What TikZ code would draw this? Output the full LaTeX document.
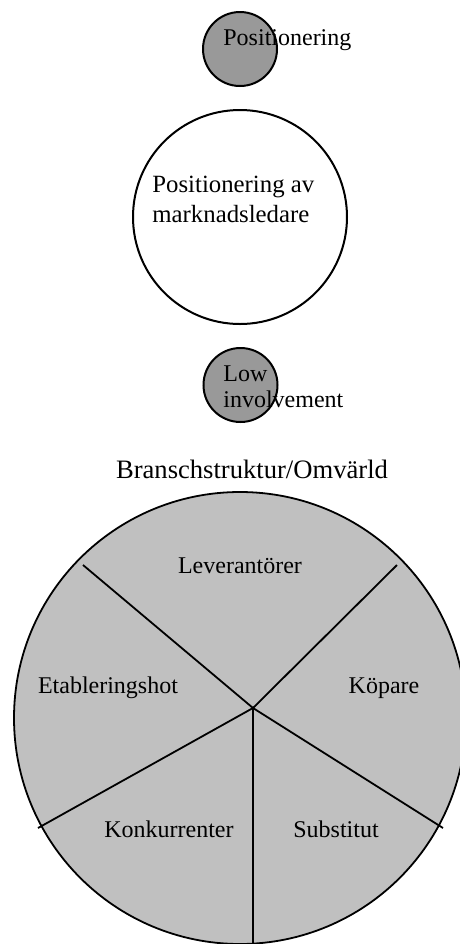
\documentclass[tikz,border=0pt]{standalone}
\usepackage{fontspec}
\setmainfont{Liberation Serif}
\definecolor{discgray}{HTML}{999999}
\definecolor{sectorgray}{HTML}{C0C0C0}
\begin{document}
\begin{tikzpicture}[x=0.5pt,y=-0.5pt,
  disc/.style={circle, draw=black, line width=1pt, inner sep=0pt},
  txt/.style={inner sep=0pt, font=\fontsize{12}{15}\selectfont},
  divider/.style={draw=black, line width=0.9pt}]
\useasboundingbox (0,0) rectangle (460,944);
\clip (0,0) rectangle (460,944);

% top: positioning
\node[disc, fill=discgray, minimum size=37pt] (posdisc) at (240,49) {};
\node[txt, anchor=base west] (postext) at (223,45) {Positionering};

% market leader positioning (base anchor sits on the last line)
\node[disc, fill=white, minimum size=107pt] (leader) at (240,217) {};
\node[txt, anchor=base west, align=left, font=\fontsize{12.4}{15}\selectfont]
  (leadertext) at (152,222) {Positionering av\\marknadsledare};

% low involvement
\node[disc, fill=discgray, minimum size=37pt] (lowdisc) at (240.5,385) {};
\node[txt, anchor=base west, align=left, font=\fontsize{12}{13}\selectfont]
  (lowtext) at (223,407) {Low\\involvement};

% industry structure wheel
\node[txt, anchor=base, font=\fontsize{13.3}{16}\selectfont] (title) at (252,478) {Branschstruktur/Omvärld};
\node[disc, fill=sectorgray, line width=0.9pt, minimum size=226pt] (wheel) at (240,718) {};
\coordinate (hub) at (253,708);
\coordinate (ul) at (83,565);
\coordinate (ur) at (397,565);
\coordinate (ll) at (38,828);
\coordinate (lr) at (443,828);
\coordinate (bt) at (253,946);
\draw[divider] (hub) -- (ul);
\draw[divider] (hub) -- (ur);
\draw[divider] (hub) -- (ll);
\draw[divider] (hub) -- (lr);
\draw[divider] (hub) -- (bt);

\node[txt, anchor=base] (lev) at (240,573) {Leverantörer};
\node[txt, anchor=base] (kop) at (384,693) {Köpare};
\node[txt, anchor=base] (etab) at (108,693) {Etableringshot};
\node[txt, anchor=base] (konk) at (169,837) {Konkurrenter};
\node[txt, anchor=base] (subs) at (336,837) {Substitut};
\end{tikzpicture}
\end{document}
